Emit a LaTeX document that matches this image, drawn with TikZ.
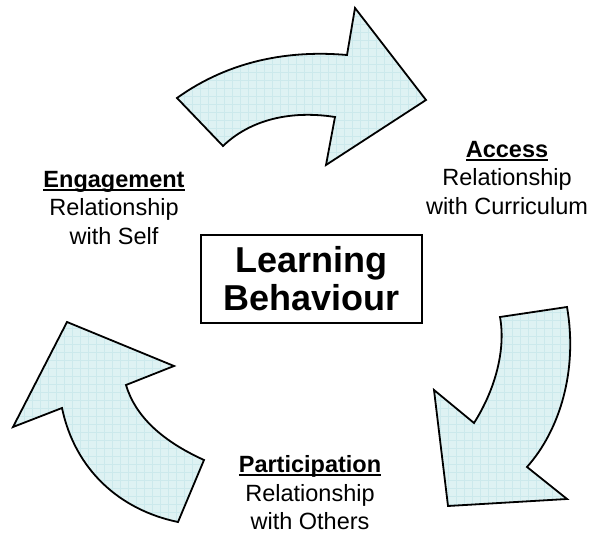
\documentclass[tikz,border=0pt]{standalone}
\usepackage{fontspec}
\setmainfont{Liberation Sans}
\usepackage{tikz}
\usetikzlibrary{positioning,calc}
\definecolor{arrowfill}{RGB}{222,242,243}
\definecolor{arrowgrid}{RGB}{204,233,236}
% bold, underlined heading word of a label
\newcommand{\headword}[1]{%
	\setbox0\hbox{\textbf{#1}}%
	\rlap{\rule[-3.5pt]{\wd0}{2pt}}\box0}
\tikzset{
	bigarrow/.style={
		draw=black, line width=1.8pt,
		line join=miter,
		fill=arrowfill,
		path picture={
			\draw[arrowgrid, line width=0.4pt]
			(path picture bounding box.south west) grid[step=8pt]
			(path picture bounding box.north east);
		},
	},
	label/.style={
		align=center,
		inner sep=0pt,
		font=\fontsize{23.5}{28.5}\selectfont,
	},
	centre/.style={
		rectangle,
		draw=black, line width=1.8pt,
		minimum width=221pt,
		minimum height=88pt,
		align=center,
		inner sep=0pt,
		font=\fontsize{36}{38}\selectfont\bfseries,
	},
}

\begin{document}
\begin{tikzpicture}[x=1pt,y=-1pt]
	
	% fix the page to the size of the reference
	\useasboundingbox (0,0) rectangle (592,534);
	
	% the three curved arrows (drawn directly, they are shapes)
	% top arrow: from Engagement to Access
	\draw[bigarrow] (177,98) .. controls (230,60) and (290,50) .. (347,55)
		-- (355,8) -- (426,100) -- (326,165) -- (335,117)
		.. controls (290,110) and (250,120) .. (223,146) -- cycle;
	
	% right arrow: from Access to Participation
	\draw[bigarrow] (500,317) -- (567,307)
		.. controls (578,370) and (560,430) .. (527,467)
		-- (567,499) -- (448,506) -- (434,390) -- (474,423)
		.. controls (495,390) and (506,350) .. (500,317) -- cycle;
	
	% left arrow: from Participation to Engagement
	\draw[bigarrow] (178,522) -- (204,460)
		.. controls (160,440) and (135,415) .. (126,385)
		-- (174,366) -- (67,322) -- (13,427) -- (62,408)
		.. controls (75,470) and (120,510) .. (178,522) -- cycle;
	
	% centre box
	\node[centre] (learn) at (311.5,279) {Learning\\Behaviour};
	
	% the three labels round the centre
	\node[label] (engage) at (114,208)
	{
		\headword{Engagement}\\
		Relationship\\
		with Self
	};
	
	\node[label] (access) at (507,178)
	{
		\headword{Access}\\
		Relationship\\
		with Curriculum
	};
	
	\node[label] (partic) at (310,493)
	{
		\headword{Participation}\\
		Relationship\\
		with Others
	};
	
\end{tikzpicture}
\end{document}
